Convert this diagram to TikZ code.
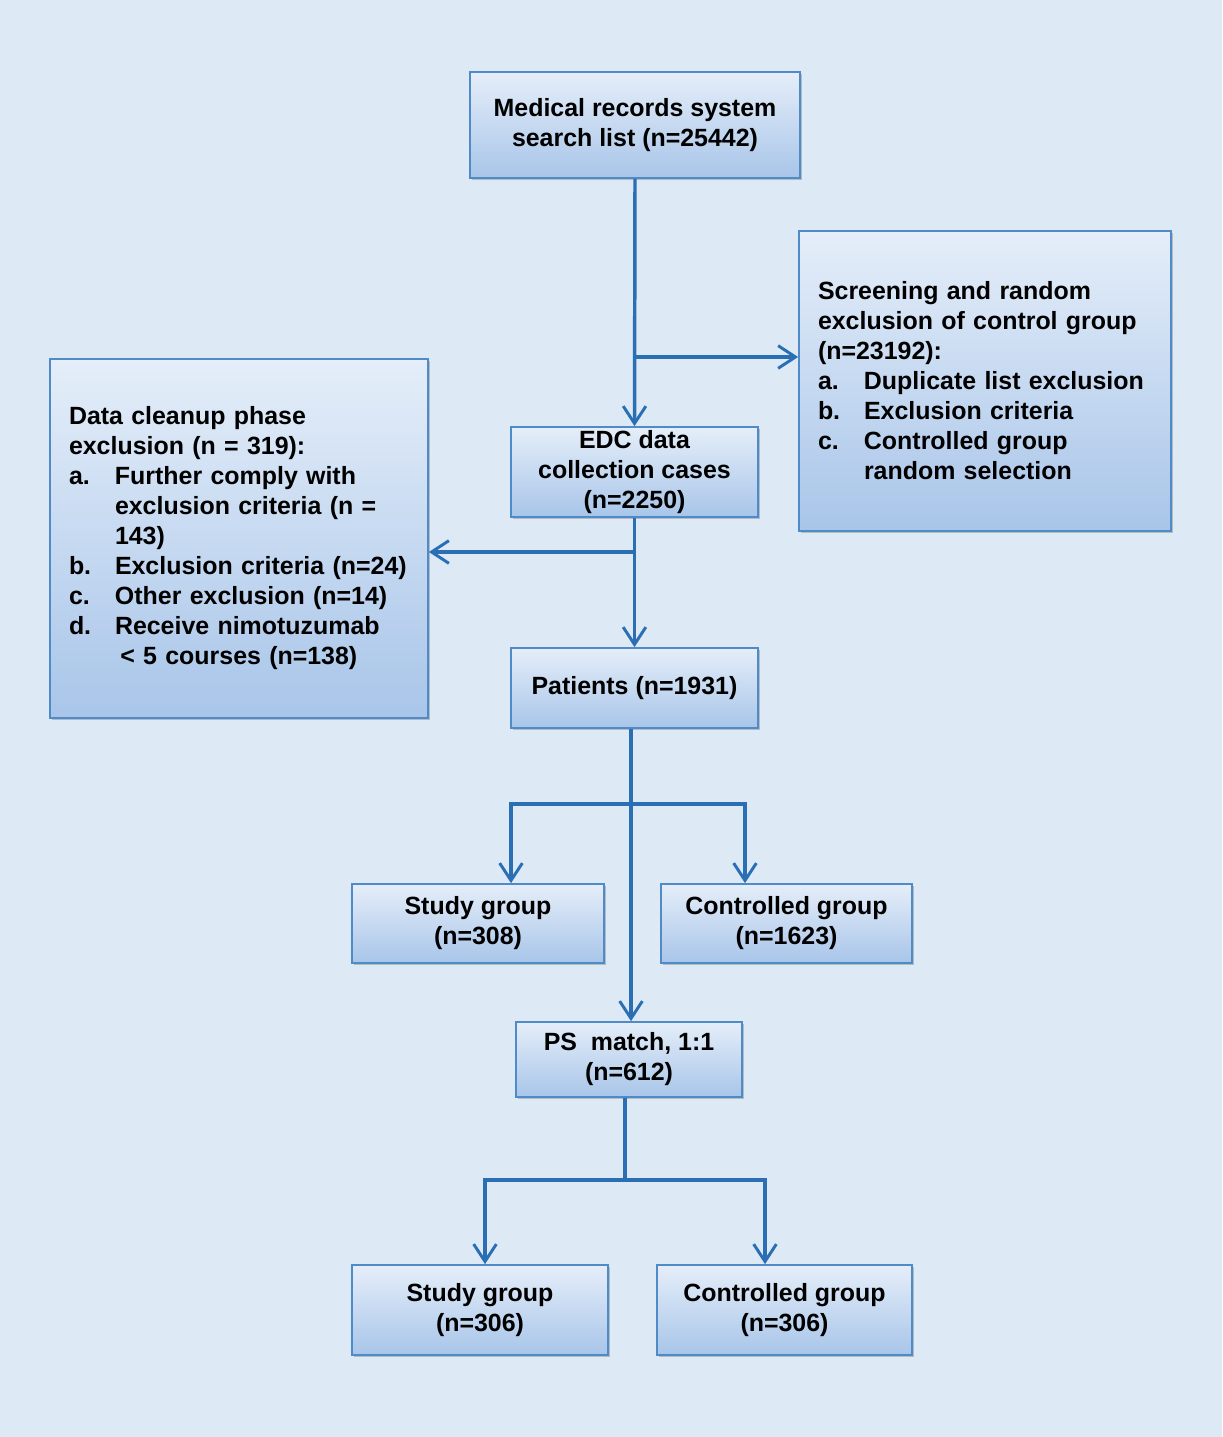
\documentclass[tikz,border=0pt]{standalone}
\usepackage{fontspec}
\setmainfont{Liberation Sans}
\usetikzlibrary{arrows.meta,shadows}

\definecolor{bgblue}{RGB}{221,233,245}
\definecolor{boxtop}{RGB}{229,238,249}
\definecolor{boxbot}{RGB}{168,197,233}
\definecolor{boxline}{RGB}{79,138,201}
\definecolor{flowline}{RGB}{42,110,180}

\newcommand{\itm}[1]{\makebox[34.5pt][l]{#1}}

\begin{document}
\begin{tikzpicture}[x=0.75pt,y=0.75pt,yscale=-1,
  box/.style={draw=boxline, line width=1.3pt, top color=boxtop, bottom color=boxbot,
    font=\bfseries\fontsize{18.7}{22.5}\selectfont, inner sep=0pt, align=center,
    drop shadow={shadow xshift=1.5pt, shadow yshift=-1.5pt, opacity=0.35, fill=black!60}},
  flow/.style={draw=flowline, line width=2.6pt},
  arr/.style={flow, -{Straight Barb[length=13pt,width=17pt,line width=2.2pt]}}]

%background
\fill[bgblue] (0,0) rectangle (1222,1437);

% Boxes
\node[box, minimum width=247.5pt, minimum height=79.5pt] (search) at (635,125)
  {Medical records system\\search list (n=25442)};
\node[box, minimum width=279pt, minimum height=225pt, align=left, text width=250.5pt] (screen) at (985,381)
  {Screening and random\\exclusion of control group\\(n=23192):\\
   \itm{a.}Duplicate list exclusion\\
   \itm{b.}Exclusion criteria\\
   \itm{c.}Controlled group\\
   \itm{}random selection};
\node[box, minimum width=283.5pt, minimum height=269.25pt, align=left, text width=255pt] (cleanup) at (239,538.5)
  {Data cleanup phase\\exclusion (n = 319):\\
   \itm{a.}Further comply with\\
   \itm{}exclusion criteria (n =\\
   \itm{}143)\\
   \itm{b.}Exclusion criteria (n=24)\\
   \itm{c.}Other exclusion (n=14)\\
   \itm{d.}Receive nimotuzumab\\
   \itm{}\hspace*{4pt}< 5 courses (n=138)};
\node[box, minimum width=185.25pt, minimum height=67.5pt] (edc) at (634.5,472)
  {EDC data\\collection cases\\(n=2250)};
\node[box, minimum width=185.25pt, minimum height=60pt] (patients) at (634.5,688)
  {Patients (n=1931)};
\node[box, minimum width=189pt, minimum height=59.25pt] (study1) at (478,923.5)
  {Study group\\(n=308)};
\node[box, minimum width=188.25pt, minimum height=59.25pt] (control1) at (786.5,923.5)
  {Controlled group\\(n=1623)};
\node[box, minimum width=169.5pt, minimum height=56.25pt] (psmatch) at (629,1059.5)
  {PS\ \ match, 1:1\\(n=612)};
\node[box, minimum width=192pt, minimum height=67.5pt] (study2) at (480,1310)
  {Study group\\(n=306)};
\node[box, minimum width=191.25pt, minimum height=67.5pt] (control2) at (784.5,1310)
  {Controlled group\\(n=306)};

% Junctions
\coordinate (j1) at (635,357);
\coordinate (j2) at (635,552);
\coordinate (j3) at (631,804);
\coordinate (j3a) at (511,804);
\coordinate (j3b) at (745,804);
\coordinate (j4) at (625,1180);
\coordinate (j4a) at (485,1180);
\coordinate (j4b) at (765,1180);

% Connectors
\draw[arr] (search.south) -- (edc.north);
\draw[arr] (j1) -- (j1 -| screen.west);
\draw[arr] (edc.south) -- (patients.north);
\draw[arr] (j2) -- (j2 -| cleanup.east);
\draw[arr] (j3 |- patients.south) -- (j3 |- psmatch.north);
\draw[arr] (j3) -- (j3a) -- (j3a |- study1.north);
\draw[arr] (j3) -- (j3b) -- (j3b |- control1.north);
\draw[flow] (j4 |- psmatch.south) -- (j4);
\draw[arr] (j4) -- (j4a) -- (j4a |- study2.north);
\draw[arr] (j4) -- (j4b) -- (j4b |- control2.north);

\end{tikzpicture}
\end{document}
